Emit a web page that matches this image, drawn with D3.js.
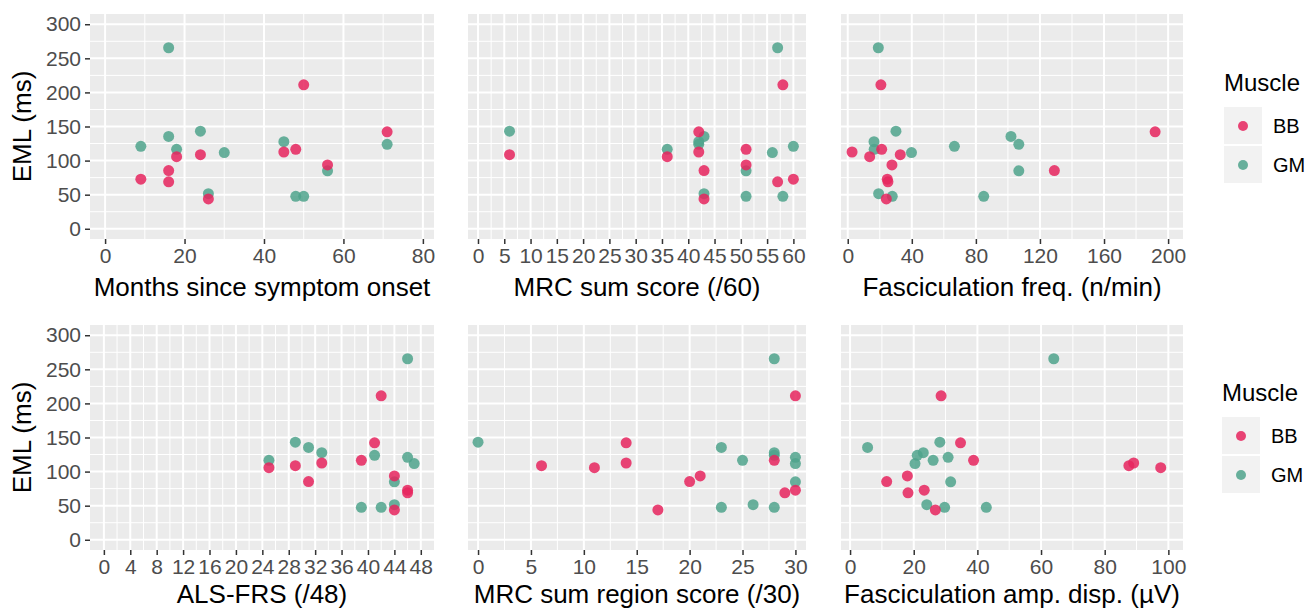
<!DOCTYPE html>
<html>
<head>
<meta charset="utf-8">
<script src="https://cdn.jsdelivr.net/npm/d3@7"></script>
<style>
    body { margin: 0; background: #ffffff; }
    svg { display: block; font-family: "Liberation Sans", Arial, sans-serif; }
</style>
</head>
<body>
<div id="chart"></div>
<script>
// EML (ms) per muscle, one value per subject (same order in every array below)
const bbEml = [72.8, 85.4, 68.9, 105.8, 108.7, 43.7, 112.6, 116.5, 211.2, 93.7, 142.2];
const gmEml = [265.5, 120.9, 135.4, 116.5, 143.2, 111.7, 51.5, 127.7, 47.6, 47.6, 85, 123.8];

// x variables, BB
const bbMonths = [9, 16, 16, 18, 24, 26, 45, 48, 50, 56, 71];
const bbMrc = [60, 43, 57, 36, 6, 43, 42, 51, 58, 51, 42];
const bbFreq = [24.7, 129, 25.1, 13.7, 32.8, 24.1, 2.7, 21.2, 20.7, 27.6, 191.9];
const bbAlsfrs = [46, 31, 46, 25, 29, 44, 33, 39, 42, 44, 41];
const bbRegion = [30, 20, 29, 11, 6, 17, 14, 28, 30, 21, 14];
const bbAmp = [23.3, 11.5, 18.2, 97.6, 87.6, 26.8, 89.1, 38.8, 28.6, 18.0, 34.7];

// x variables, GM
const gmMonths = [16, 9, 16, 18, 24, 30, 26, 45, 48, 50, 56, 71];
const gmMrc = [57, 60, 43, 36, 6, 56, 43, 42, 51, 58, 51, 42];
const gmFreq = [19.1, 66.6, 101.9, 16.5, 30.1, 39.8, 19.3, 16.4, 27.8, 84.9, 106.8, 106.8];
const gmAlsfrs = [46, 46, 31, 25, 29, 47, 44, 33, 39, 42, 44, 41];
const gmRegion = [28, 30, 23, 25, 0, 30, 26, 28, 23, 28, 30, 28];
const gmAmp = [64.0, 30.8, 5.5, 26.1, 28.2, 20.4, 24.1, 23.0, 29.7, 42.8, 31.6, 21.1];

// tick labels
const yTicks = [0, 50, 100, 150, 200, 250, 300];
const monthsTicks = [0, 20, 40, 60, 80];
const mrcTicks = d3.range(0, 61, 5);
const freqTicks = [0, 40, 80, 120, 160, 200];
const alsfrsTicks = d3.range(0, 49, 4);
const regionTicks = [0, 5, 10, 15, 20, 25, 30];
const ampTicks = [0, 20, 40, 60, 80, 100];

const muscles = ["BB", "GM"];
const colors = {BB: "#E6245E", GM: "#4FA38C"};

const width = 1309, height = 609;

// plot areas (columns / rows) in pixels
const cols = [[90, 434], [468, 806], [841, 1183]];
const rows = [[14, 239], [325, 550]];
const titleOffset = [57, 53];

const panels = [
    {row: 0, col: 0, title: "Months since symptom onset", bb: bbMonths, gm: gmMonths, ticks: monthsTicks, domain: [-3.8, 82.8]},
    {row: 0, col: 1, title: "MRC sum score (/60)", bb: bbMrc, gm: gmMrc, ticks: mrcTicks, domain: [-1.9, 62.4]},
    {row: 0, col: 2, title: "Fasciculation freq. (n/min)", bb: bbFreq, gm: gmFreq, ticks: freqTicks, domain: [-4.2, 209.3]},
    {row: 1, col: 0, title: "ALS-FRS (/48)", bb: bbAlsfrs, gm: gmAlsfrs, ticks: alsfrsTicks, domain: [-2.1, 50.0]},
    {row: 1, col: 1, title: "MRC sum region score (/30)", bb: bbRegion, gm: gmRegion, ticks: regionTicks, domain: [-0.95, 31.0]},
    {row: 1, col: 2, title: "Fasciculation amp. disp. (\u00b5V)", bb: bbAmp, gm: gmAmp, ticks: ampTicks, domain: [-2.85, 104.6]}
];

const svg = d3.select("#chart")
    .append("svg")
    .attr("width", width)
    .attr("height", height);

// minor breaks = midpoints between majors
function minors(ticks, domain) {
    let m = [];
    for (let i = 0; i < ticks.length - 1; i++) m.push((ticks[i] + ticks[i + 1]) / 2);
    return m.filter(v => v > domain[0] && v < domain[1]);
}

panels.forEach(p => {
    let [x0, x1] = cols[p.col];
    let [y0, y1] = rows[p.row];

    let x = d3.scaleLinear().domain(p.domain).range([x0, x1]);
    let y = d3.scaleLinear().domain([-15, 315]).range([y1, y0]);

    let g = svg.append("g");

    // background
    g.append("rect")
        .attr("x", x0).attr("y", y0)
        .attr("width", x1 - x0).attr("height", y1 - y0)
        .attr("fill", "#EBEBEB");

    // minor grid
    g.selectAll(".minor-x")
        .data(minors(p.ticks, p.domain))
        .enter().append("line")
        .attr("x1", d => x(d)).attr("x2", d => x(d))
        .attr("y1", y0).attr("y2", y1)
        .attr("stroke", "#fff").attr("stroke-width", 1);
    g.selectAll(".minor-y")
        .data(minors(yTicks, [-15, 315]))
        .enter().append("line")
        .attr("x1", x0).attr("x2", x1)
        .attr("y1", d => y(d)).attr("y2", d => y(d))
        .attr("stroke", "#fff").attr("stroke-width", 1);

    // major grid
    g.selectAll(".major-x")
        .data(p.ticks)
        .enter().append("line")
        .attr("x1", d => x(d)).attr("x2", d => x(d))
        .attr("y1", y0).attr("y2", y1)
        .attr("stroke", "#fff").attr("stroke-width", 2);
    g.selectAll(".major-y")
        .data(yTicks)
        .enter().append("line")
        .attr("x1", x0).attr("x2", x1)
        .attr("y1", d => y(d)).attr("y2", d => y(d))
        .attr("stroke", "#fff").attr("stroke-width", 2);

    // x axis
    let xAxis = g.append("g")
        .attr("transform", "translate(0," + y1 + ")")
        .call(d3.axisBottom(x).tickValues(p.ticks).tickSize(5).tickPadding(4).tickFormat(d3.format("d")));
    xAxis.select(".domain").remove();
    xAxis.selectAll(".tick line").attr("stroke", "#333").attr("stroke-width", 1.5);
    xAxis.selectAll(".tick text")
        .attr("fill", "#4D4D4D")
        .style("font-size", "21px")
        .style("font-family", "Liberation Sans, Arial, sans-serif");

    // x title
    g.append("text")
        .attr("x", (x0 + x1) / 2)
        .attr("y", y1 + titleOffset[p.row])
        .attr("text-anchor", "middle")
        .attr("font-size", "26px")
        .attr("fill", "#000")
        .text(p.title);

    // y axis only on first column
    if (p.col === 0) {
        let yAxis = g.append("g")
            .attr("transform", "translate(" + x0 + ",0)")
            .call(d3.axisLeft(y).tickValues(yTicks).tickSize(5).tickPadding(4));
        yAxis.select(".domain").remove();
        yAxis.selectAll(".tick line").attr("stroke", "#333").attr("stroke-width", 1.5);
        yAxis.selectAll(".tick text")
            .attr("fill", "#4D4D4D")
            .style("font-size", "21px")
            .style("font-family", "Liberation Sans, Arial, sans-serif");

        g.append("text")
            .attr("transform", "translate(31," + (y0 + y1) / 2 + ") rotate(-90)")
            .attr("text-anchor", "middle")
            .attr("font-size", "26px")
            .attr("fill", "#000")
            .text("EML (ms)");
    }

    // points, GM first then BB on top
    g.selectAll(".gm")
        .data(p.gm.map((v, i) => ({x: v, y: gmEml[i]})))
        .enter().append("circle")
        .attr("cx", d => x(d.x)).attr("cy", d => y(d.y))
        .attr("r", 5.5)
        .attr("fill", colors.GM)
        .attr("fill-opacity", 0.85);
    g.selectAll(".bb")
        .data(p.bb.map((v, i) => ({x: v, y: bbEml[i]})))
        .enter().append("circle")
        .attr("cx", d => x(d.x)).attr("cy", d => y(d.y))
        .attr("r", 5.5)
        .attr("fill", colors.BB)
        .attr("fill-opacity", 0.85);
});

// legends, one for each row
const legends = [{x: 1224, titleY: 91, keyY: 107}, {x: 1222, titleY: 401, keyY: 417}];

legends.forEach(l => {
    let g = svg.append("g");
    g.append("text")
        .attr("x", l.x)
        .attr("y", l.titleY)
        .attr("font-size", "24px")
        .attr("fill", "#000")
        .text("Muscle");

    muscles.forEach((m, i) => {
        let ky = l.keyY + i * 39;
        g.append("rect")
            .attr("x", l.x).attr("y", ky)
            .attr("width", 38).attr("height", 37)
            .attr("fill", "#F2F2F2");
        g.append("circle")
            .attr("cx", l.x + 19).attr("cy", ky + 19)
            .attr("r", 5)
            .attr("fill", colors[m])
            .attr("fill-opacity", 0.85);
        g.append("text")
            .attr("x", l.x + 49)
            .attr("y", ky + 26)
            .attr("font-size", "20px")
            .attr("fill", "#000")
            .text(m);
    });
});
</script>
</body>
</html>
